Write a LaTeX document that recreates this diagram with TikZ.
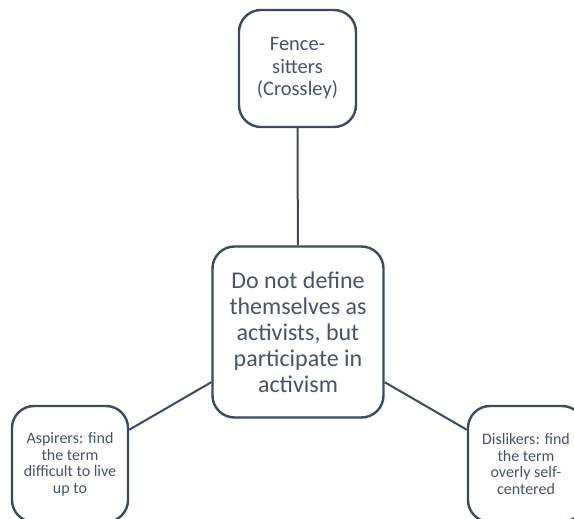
\documentclass[tikz,border=0pt]{standalone}
\usepackage{fontspec}
\setmainfont{Carlito}
\definecolor{slate}{HTML}{44546A}
\definecolor{edge}{HTML}{3B4A5E}
\begin{document}
\begin{tikzpicture}[x=1pt,y=-1pt,
  box/.style={draw=edge, line width=2.4pt, fill=white, rounded corners=22pt,
    text=slate, align=center, inner sep=0pt, minimum width=#1, minimum height=#1},
  link/.style={draw=edge, line width=2pt}]
  \useasboundingbox (0,0) rectangle (574,519);
  \node[box=117pt, font=\fontsize{20.5}{22.5}\selectfont] (top) at (297.5,68.5)
    {Fence-\\sitters\\(Crossley)};
  \node[box=171pt, font=\fontsize{24}{26}\selectfont] (mid) at (298,332)
    {Do not define\\themselves as\\activists, but\\participate in\\activism};
  \node[box=116pt, font=\fontsize{16}{16.5}\selectfont] (left) at (70,464)
    {Aspirers: find\\the term\\difficult to live\\up to};
  \node[box=116pt, font=\fontsize{16}{16.5}\selectfont] (right) at (526,464)
    {Dislikers: find\\the term\\overly self-\\centered};
  \draw[link] (top) -- (mid);
  \draw[link] (mid) -- (left);
  \draw[link] (mid) -- (right);
\end{tikzpicture}
\end{document}
